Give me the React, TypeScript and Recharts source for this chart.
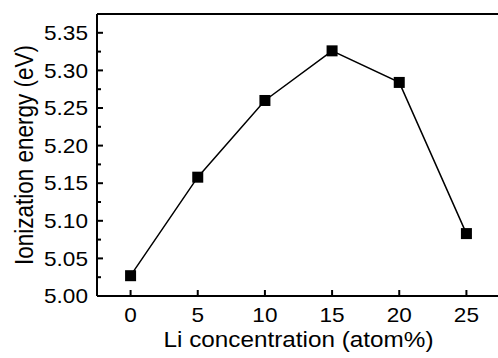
import { Label, Line, LineChart, ReferenceLine, XAxis, YAxis } from "recharts";

const concentration = [0, 5, 10, 15, 20, 25];
const ionization = [5.027, 5.158, 5.26, 5.326, 5.284, 5.083];

const xTicks = [0, 5, 10, 15, 20, 25];
const yMajorTicks = [5.0, 5.05, 5.1, 5.15, 5.2, 5.25, 5.3, 5.35];
const yMinorTicks = [5.025, 5.075, 5.125, 5.175, 5.225, 5.275, 5.325];

const xTitle = "Li concentration (atom%)";
const yTitle = "Ionization energy (eV)";

const data = concentration.map((c, i) => ({ c, e: ionization[i] }));
const yTicks = [...yMajorTicks, ...yMinorTicks].sort((a, b) => a - b);

const font = "'Liberation Sans', Arial, sans-serif";
// the source image is a bit wider than tall, text is stretched sideways
const STRETCH = 1.13;
const TICK_GAP = 9;

function YTick(props: any) {
  const { x, y, payload } = props;
  const axisX = x + TICK_GAP;
  const major = yMajorTicks.some((t) => Math.abs(t - payload.value) < 1e-6);
  return (
    <g>
      <line x1={axisX} x2={axisX + (major ? 6 : 4)} y1={y} y2={y} stroke="#000" strokeWidth={2} />
      {major && (
        <text
          transform={`translate(${x}, ${y}) scale(${STRETCH}, 1)`}
          dy="0.36em"
          textAnchor="end"
          fontSize={20}
          fontFamily={font}
          fill="#000"
        >
          {payload.value.toFixed(2)}
        </text>
      )}
    </g>
  );
}

function XTick(props: any) {
  const { x, y, payload } = props;
  const axisY = y - 12;
  return (
    <g>
      <line x1={x} x2={x} y1={axisY} y2={axisY - 6} stroke="#000" strokeWidth={2} />
      <text
        transform={`translate(${x}, ${y}) scale(${STRETCH}, 1)`}
        dy="0.71em"
        textAnchor="middle"
        fontSize={20}
        fontFamily={font}
        fill="#000"
      >
        {payload.value}
      </text>
    </g>
  );
}

function SquareDot(props: any) {
  const { cx, cy, index } = props;
  return <rect key={index} x={cx - 5.5} y={cy - 5.5} width={11} height={11} fill="#000" />;
}

export default function App() {
  return (
    <div
      style={{
        position: "fixed",
        left: 0,
        top: 0,
        width: 498,
        height: 358,
        overflow: "hidden",
        background: "#fff",
      }}
    >
      <LineChart width={500} height={358} data={data} margin={{ top: 14, right: 0, bottom: 0, left: 0 }}>
        <XAxis
          dataKey="c"
          type="number"
          domain={[-2.5, 27.5]}
          ticks={xTicks}
          interval={0}
          height={62}
          tickSize={0}
          tickMargin={12}
          tickLine={false}
          tick={<XTick />}
          axisLine={{ stroke: "#000", strokeWidth: 2 }}
        >
          <Label
            content={({ viewBox }: any) => (
              <text
                transform={`translate(${viewBox.x + viewBox.width / 2}, ${viewBox.y + 51}) scale(${STRETCH}, 1)`}
                textAnchor="middle"
                fontSize={21.5}
                fontFamily={font}
                fill="#000"
              >
                {xTitle}
              </text>
            )}
          />
        </XAxis>
        <YAxis
          type="number"
          domain={[5.0, 5.375]}
          ticks={yTicks}
          interval={0}
          width={97}
          tickSize={0}
          tickMargin={TICK_GAP}
          tickLine={false}
          tick={<YTick />}
          axisLine={{ stroke: "#000", strokeWidth: 2 }}
          allowDataOverflow
        >
          <Label
            content={({ viewBox }: any) => (
              <text
                transform={`translate(${viewBox.x + 33}, ${viewBox.y + viewBox.height / 2}) scale(${STRETCH}, 1) rotate(-90)`}
                textAnchor="middle"
                fontSize={22.5}
                fontFamily={font}
                fill="#000"
              >
                {yTitle}
              </text>
            )}
          />
        </YAxis>
        <ReferenceLine y={5.375} stroke="#000" strokeWidth={2} />
        <Line
          dataKey="e"
          stroke="#000"
          strokeWidth={1.5}
          dot={SquareDot}
          activeDot={false}
          isAnimationActive={false}
        />
      </LineChart>
    </div>
  );
}
